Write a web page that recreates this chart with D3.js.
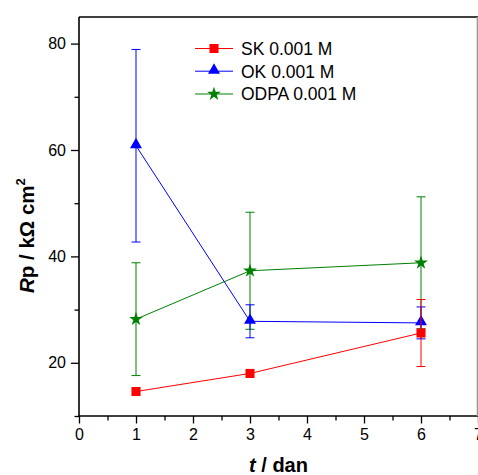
<!DOCTYPE html>
<html>
<head>
<meta charset="utf-8">
<script src="https://cdn.jsdelivr.net/npm/d3@7"></script>
<style>
  html, body { margin: 0; padding: 0; background: #fff; }
  svg { display: block; }
  text { font-family: Arial, "Liberation Sans", sans-serif; }
</style>
</head>
<body>
<svg id="chart" width="478" height="475"></svg>
<script>
// ---- data ----
const times = [1, 3, 6];
const skValues = [14.6, 18.0, 25.6];
const skErrors = [0, 0, 6.3];
const okValues = [60.8, 27.8, 27.5];
const okErrors = [18.1, 3.1, 3.0];
const odpaValues = [28.2, 37.3, 38.8];
const odpaErrors = [10.6, 11.0, 12.4];
const seriesNames = ["SK 0.001 M", "OK 0.001 M", "ODPA 0.001 M"];
const xTicks = [0, 1, 2, 3, 4, 5, 6, 7];
const yTicks = [20, 40, 60, 80];

const series = [
  { name: seriesNames[2], values: odpaValues, errors: odpaErrors, color: "#008000", symbol: d3.symbolStar, size: 60 },
  { name: seriesNames[1], values: okValues, errors: okErrors, color: "#0000ff", symbol: d3.symbolTriangle, size: 62 },
  { name: seriesNames[0], values: skValues, errors: skErrors, color: "#ff0000", symbol: d3.symbolSquare, size: 82 }
];

const svg = d3.select("#chart");
const x = d3.scaleLinear().domain([0, 7]).range([79, 478]);
const y = d3.scaleLinear().domain([10, 85]).range([416, 17]);

// ---- axes ----
const axisColor = "#000";
const xMinor = d3.range(0.5, 7, 1);
const yMinor = [10, 30, 50, 70];

const gx = svg.append("g").attr("transform", `translate(0,${y(10)})`);
gx.call(d3.axisBottom(x).tickValues(xMinor).tickSize(4.5).tickFormat(""));
gx.call(g => g.selectAll(".domain").remove());
const gx2 = svg.append("g").attr("transform", `translate(0,${y(10)})`);
gx2.call(d3.axisBottom(x).tickValues(xTicks).tickSize(7.5).tickPadding(5).tickFormat(d3.format("d")));
gx2.selectAll(".domain").remove();
gx2.selectAll("text").attr("font-size", 16).attr("fill", "#000").attr("font-family", "Arial, 'Liberation Sans', sans-serif");

const gy = svg.append("g").attr("transform", `translate(${x(0)},0)`);
gy.call(d3.axisLeft(y).tickValues(yMinor).tickSize(4.5).tickFormat(""));
gy.selectAll(".domain").remove();
const gy2 = svg.append("g").attr("transform", `translate(${x(0)},0)`);
gy2.call(d3.axisLeft(y).tickValues(yTicks).tickSize(8).tickPadding(5).tickFormat(d3.format("d")));
gy2.selectAll(".domain").remove();
gy2.selectAll("text").attr("font-size", 16).attr("fill", "#000").attr("font-family", "Arial, 'Liberation Sans', sans-serif");
svg.selectAll("g line").attr("stroke", axisColor).attr("stroke-width", 1.3);

// frame
const frame = svg.append("g").attr("stroke", "#000").attr("stroke-width", 1.6).attr("fill", "none");
frame.append("line").attr("x1", x(0)).attr("x2", x(7)).attr("y1", y(10)).attr("y2", y(10));
frame.append("line").attr("x1", x(0)).attr("x2", x(0)).attr("y1", y(10)).attr("y2", y(85));
frame.append("line").attr("x1", x(0)).attr("x2", x(7)).attr("y1", y(85)).attr("y2", y(85));
frame.append("line").attr("x1", x(7) - 0.5).attr("x2", x(7) - 0.5).attr("y1", y(10)).attr("y2", y(85)).attr("stroke", "#999");

// ---- series ----
const line = d3.line().x(d => x(d.t)).y(d => y(d.v));
series.forEach(s => {
  const pts = times.map((t, i) => ({ t, v: s.values[i], e: s.errors[i] }));
  const g = svg.append("g");
  g.append("path").datum(pts).attr("d", line).attr("fill", "none").attr("stroke", s.color).attr("stroke-width", 1);
  pts.forEach(p => {
    if (p.e > 0) {
      const eg = g.append("g").attr("stroke", s.color).attr("stroke-width", 1);
      eg.append("line").attr("x1", x(p.t)).attr("x2", x(p.t)).attr("y1", y(p.v - p.e)).attr("y2", y(p.v + p.e));
      eg.append("line").attr("x1", x(p.t) - 4.5).attr("x2", x(p.t) + 4.5).attr("y1", y(p.v + p.e)).attr("y2", y(p.v + p.e));
      eg.append("line").attr("x1", x(p.t) - 4.5).attr("x2", x(p.t) + 4.5).attr("y1", y(p.v - p.e)).attr("y2", y(p.v - p.e));
    }
  });
  g.selectAll("path.m").data(pts).join("path").attr("class", "m")
    .attr("d", d3.symbol().type(s.symbol).size(s.size))
    .attr("transform", d => `translate(${x(d.t)},${y(d.v) + (s.symbol === d3.symbolTriangle ? -1 : 0)})`)
    .attr("fill", s.color);
});

// ---- legend ----
const legendOrder = [series[2], series[1], series[0]];
const legendY = [48.5, 71.2, 94];
legendOrder.forEach((s, i) => {
  const g = svg.append("g").attr("transform", `translate(0,${legendY[i]})`);
  g.append("line").attr("x1", 195).attr("x2", 233).attr("y1", 0).attr("y2", 0).attr("stroke", s.color).attr("stroke-width", 1);
  g.append("path").attr("d", d3.symbol().type(s.symbol).size(s.size)).attr("transform", `translate(214,${s.symbol === d3.symbolTriangle ? -1 : 0})`).attr("fill", s.color);
  g.append("text").attr("x", 241).attr("y", 6.3).attr("font-size", 17.5).attr("fill", "#000").text(s.name);
});

// ---- titles ----
const xt = svg.append("text").attr("x", x(3.5)).attr("y", 472).attr("text-anchor", "middle")
  .attr("font-size", 20).attr("font-weight", "bold").attr("fill", "#000");
xt.append("tspan").attr("font-style", "italic").text("t");
xt.append("tspan").text(" / dan");

const yt = svg.append("text").attr("transform", "translate(33.5,293) rotate(-90)").attr("text-anchor", "start")
  .attr("font-size", 20.5).attr("font-weight", "bold").attr("fill", "#000");
yt.append("tspan").attr("font-style", "italic").text("R");
yt.append("tspan").text("p / kΩ cm");
yt.append("tspan").attr("font-size", 13).attr("dy", -9).text("2");
</script>
</body>
</html>
